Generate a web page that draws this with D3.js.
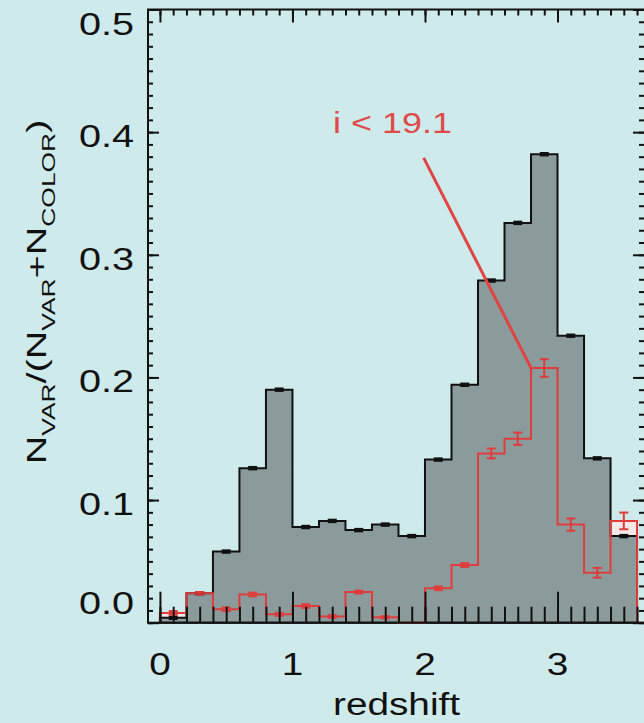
<!DOCTYPE html>
<html>
<head>
<meta charset="utf-8">
<script src="https://cdn.jsdelivr.net/npm/d3@7"></script>
<style>
  body { margin: 0; background: #cfeaea; }
  svg { display: block; }
  text { font-family: "Liberation Sans", Arial, sans-serif; }
</style>
</head>
<body>
<script>
// redshift bins (width 0.2)
var binEdges = [0.0, 0.2, 0.4, 0.6, 0.8, 1.0, 1.2, 1.4, 1.6, 1.8, 2.0,
                2.2, 2.4, 2.6, 2.8, 3.0, 3.2, 3.4, 3.6];

// all quasars: N_VAR/(N_VAR+N_COLOR)
var allFrac = [0.004, 0.024, 0.058, 0.126, 0.190, 0.078, 0.083, 0.0755, 0.080,
               0.0706, 0.133, 0.194, 0.279, 0.326, 0.382, 0.234, 0.134, 0.0706];
var allErr  = [0.001, 0.001, 0.001, 0.001, 0.001, 0.001, 0.001, 0.001, 0.001,
               0.001, 0.001, 0.001, 0.001, 0.001, 0.001, 0.001, 0.001, 0.001];

// bright subsample, i < 19.1
var brightFrac = [0.008, 0.024, 0.011, 0.023, 0.0068, 0.0136, 0.005, 0.025, 0.0044,
                  0.0, 0.028, 0.047, 0.138, 0.150, 0.2077, 0.080, 0.0407, 0.083];
var brightErr  = [0.0015, 0.001, 0.0015, 0.0015, 0.0012, 0.0015, 0.0012, 0.0012, 0.001,
                  0, 0.0015, 0.0015, 0.004, 0.005, 0.0072, 0.005, 0.004, 0.0068];

var xTicks = [0, 1, 2, 3];
var xTickLabels = ["0", "1", "2", "3"];
var yTicks = [0, 0.1, 0.2, 0.3, 0.4, 0.5];
var yTickLabels = ["0.0", "0.1", "0.2", "0.3", "0.4", "0.5"];

var labelText = "i < 19.1";
var labelFrom = [1.99, 0.379];   // where the pointer starts (data units)

var W = 644, H = 723;
var bg = "#cfeaea", grayFill = "#8b9b9b", red = "#e03c3c";

var svg = d3.select("body").append("svg")
    .attr("width", W)
    .attr("height", H);

svg.append("rect").attr("width", W).attr("height", H).attr("fill", bg);

var x = d3.scaleLinear().domain([-0.09, 3.66]).range([148, 645]);
var y = d3.scaleLinear().domain([0, 0.5]).range([622.7, 9.5]);

// step outline points for a histogram
function steps(vals) {
    var pts = [[binEdges[0], 0]];
    vals.forEach(function (v, i) {
        pts.push([binEdges[i], v]);
        pts.push([binEdges[i + 1], v]);
    });
    pts.push([binEdges[binEdges.length - 1], 0]);
    return pts;
}

var line = d3.line()
    .x(function (d) { return x(d[0]); })
    .y(function (d) { return y(d[1]); });

var plot = svg.append("g");

// pale fill under the bright histogram (shows where it pokes above the grey)
plot.append("path")
    .attr("d", line(steps(brightFrac)) + "Z")
    .attr("fill", "#f4e8e8");

// all quasars
plot.append("path")
    .attr("d", line(steps(allFrac)) + "Z")
    .attr("fill", grayFill)
    .attr("stroke", "#111")
    .attr("stroke-width", 2)
    .attr("stroke-linejoin", "miter");

// bright subsample outline, runs on along zero to the edge
var redPts = steps(brightFrac);
redPts.push([x.domain()[1], 0]);
plot.append("path")
    .attr("d", line(redPts))
    .attr("fill", "none")
    .attr("stroke", red)
    .attr("stroke-width", 2);

// error bars
function errorBars(vals, errs, col) {
    var g = plot.append("g").attr("stroke", col).attr("stroke-width", 2);
    vals.forEach(function (v, i) {
        if (!errs[i]) return;
        var cx = x((binEdges[i] + binEdges[i + 1]) / 2);
        var y0 = y(v - errs[i]), y1 = y(v + errs[i]);
        g.append("line").attr("x1", cx).attr("x2", cx).attr("y1", y0).attr("y2", y1);
        g.append("line").attr("x1", cx - 4.5).attr("x2", cx + 4.5).attr("y1", y0).attr("y2", y0);
        g.append("line").attr("x1", cx - 4.5).attr("x2", cx + 4.5).attr("y1", y1).attr("y2", y1);
    });
}
errorBars(allFrac, allErr, "#111");
errorBars(brightFrac, brightErr, red);

// label with pointer to the peak bin
var peak = brightFrac.indexOf(d3.max(brightFrac));
plot.append("line")
    .attr("x1", x(labelFrom[0])).attr("y1", y(labelFrom[1]))
    .attr("x2", x(binEdges[peak])).attr("y2", y(brightFrac[peak]))
    .attr("stroke", "#e04444")
    .attr("stroke-width", 3);

svg.append("text")
    .attr("transform", "translate(333,133) scale(1.24,1)")
    .attr("font-size", 29)
    .attr("fill", "#dd4b4b")
    .text(labelText);

// axes: ticks point inward on all four sides
var xMinor = d3.range(0, 3.65, 0.1);
var yMinor = d3.range(0, 0.5001, 0.01);

function ticks(axis, tx, ty) {
    var g = svg.append("g")
        .attr("transform", "translate(" + tx + "," + ty + ")")
        .call(axis);
    g.select(".domain").remove();
    g.selectAll("line").attr("stroke", "#111").attr("stroke-width", 2);
    return g;
}

ticks(d3.axisRight(y).tickValues(yMinor).tickSize(5).tickFormat(""), 148, 0);
ticks(d3.axisRight(y).tickValues(yTicks).tickSize(11).tickFormat(""), 148, 0);
ticks(d3.axisLeft(y).tickValues(yMinor).tickSize(6).tickFormat(""), 645, 0);
ticks(d3.axisLeft(y).tickValues(yTicks).tickSize(12).tickFormat(""), 645, 0);
ticks(d3.axisBottom(x).tickValues(xMinor).tickSize(6).tickFormat(""), 0, 9.5);
ticks(d3.axisBottom(x).tickValues(xTicks).tickSize(13).tickFormat(""), 0, 9.5);
ticks(d3.axisTop(x).tickValues(xMinor).tickSize(16).tickFormat(""), 0, 622.7);
ticks(d3.axisTop(x).tickValues(xTicks).tickSize(31).tickFormat(""), 0, 622.7);

svg.append("rect")
    .attr("x", 148).attr("y", 9.5)
    .attr("width", 645 - 148).attr("height", 622.7 - 9.5)
    .attr("fill", "none")
    .attr("stroke", "#111")
    .attr("stroke-width", 2);

// tick labels (end labels kept inside the frame)
yTicks.forEach(function (v, i) {
    var cy = Math.max(y.range()[1] + 14.5, Math.min(y.range()[0] - 20, y(v) + 4));
    svg.append("text")
        .attr("transform", "translate(134," + (cy + 11) + ") scale(1.3,1)")
        .attr("text-anchor", "end")
        .attr("font-size", 30.5)
        .attr("fill", "#111")
        .text(yTickLabels[i]);
});

xTicks.forEach(function (v, i) {
    svg.append("text")
        .attr("transform", "translate(" + x(v) + ",674.5) scale(1.25,1)")
        .attr("text-anchor", "middle")
        .attr("font-size", 31)
        .attr("fill", "#111")
        .text(xTickLabels[i]);
});

svg.append("text")
    .attr("transform", "translate(" + (x.range()[0] + x.range()[1]) / 2 + ",715) scale(1.25,1)")
    .attr("text-anchor", "middle")
    .attr("font-size", 31)
    .attr("fill", "#111")
    .text("redshift");

// y title N_VAR/(N_VAR+N_COLOR)
var yt = svg.append("g");
var ytText = yt.append("text")
    .attr("text-anchor", "middle")
    .attr("font-size", 27)
    .attr("fill", "#111");
var parts = [["N", 0], ["VAR", 1], ["/(N", 0], ["VAR", 1], ["+N", 0], ["COLOR", 1], [")", 0]];
var lastSub = 0;
parts.forEach(function (p) {
    var dy = (p[1] - lastSub) * 9;
    ytText.append("tspan")
        .attr("dy", dy)
        .attr("font-size", p[1] ? 18 : 27)
        .text(p[0]);
    lastSub = p[1];
});
var natural = ytText.node().getComputedTextLength();
yt.attr("transform", "translate(46,292) rotate(-90) scale(" + (345 / natural) + ",1)");
</script>
</body>
</html>
